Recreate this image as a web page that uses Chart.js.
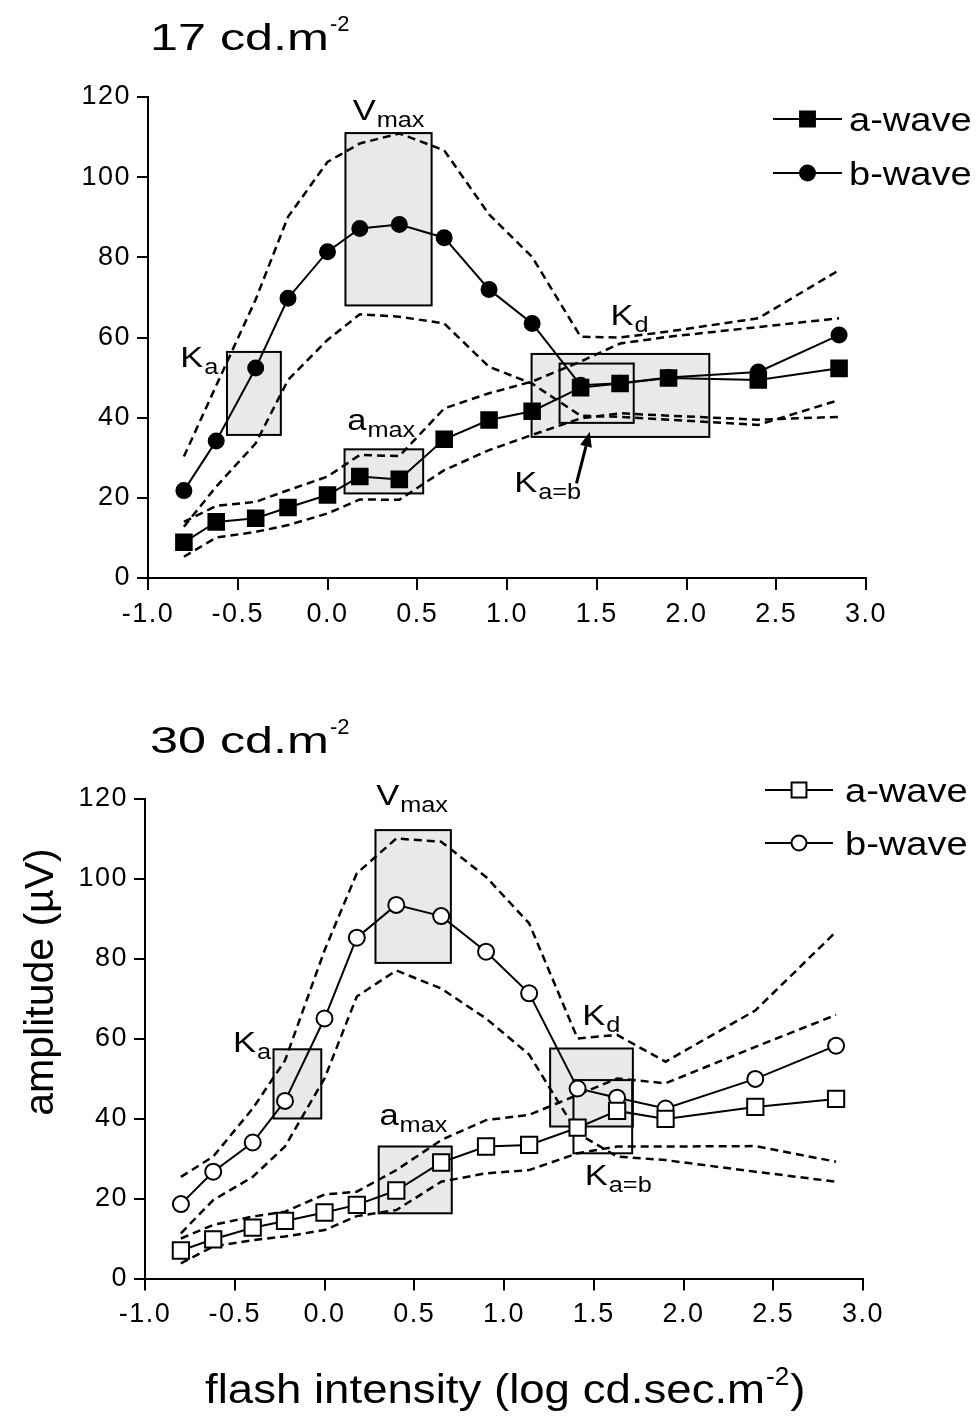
<!DOCTYPE html>
<html>
<head>
<meta charset="utf-8">
<script src="https://cdn.jsdelivr.net/npm/chart.js@4.4.1/dist/chart.umd.min.js"></script>
<style>
  body { margin: 0; background: #fff; }
  #wrap { position: relative; width: 979px; height: 1419px; }
  canvas { position: absolute; left: 0; }
</style>
</head>
<body>
<div id="wrap">
  <canvas id="c17" width="979" height="700" style="top:0"></canvas>
  <canvas id="c30" width="979" height="719" style="top:700px"></canvas>
</div>
<script>
// flash intensities (log cd.sec.m-2), shared by both panels
const intensity = [-0.8, -0.62, -0.4, -0.22, 0.0, 0.18, 0.4, 0.65, 0.9, 1.14, 1.41, 1.63, 1.9, 2.4, 2.85];
const xTickValues = [-1.0, -0.5, 0.0, 0.5, 1.0, 1.5, 2.0, 2.5, 3.0];
const yTickValues = [0, 20, 40, 60, 80, 100, 120];

// 17 cd.m-2 panel (amplitude, uV)
const aWave17  = [8.9, 14.0, 14.9, 17.6, 20.7, 25.3, 24.6, 34.6, 39.4, 41.6, 47.5, 48.5, 49.9, 49.4, 52.3];
const bWave17  = [21.8, 34.2, 52.4, 69.8, 81.4, 87.2, 88.2, 84.9, 72.0, 63.5, 48.1, 48.6, 50.0, 51.4, 60.6];
const bUpper17 = [30.3, 48.0, 69.5, 90.1, 103.8, 108.4, 110.9, 106.7, 90.7, 80.1, 60.2, 60.0, 61.5, 64.8, 76.8];
const bLower17 = [12.8, 22.8, 33.6, 49.4, 59.4, 65.8, 65.2, 63.5, 52.7, 48.5, 40.5, 40.2, 39.5, 38.2, 44.4];
const aUpper17 = [14.0, 18.0, 19.0, 21.9, 25.3, 30.7, 30.4, 42.3, 46.1, 49.0, 54.0, 58.5, 60.2, 62.6, 64.8];
const aLower17 = [5.3, 10.1, 11.5, 13.2, 16.1, 19.6, 19.5, 26.9, 31.9, 35.7, 39.8, 41.1, 40.5, 39.5, 40.2];

// 30 cd.m-2 panel
const aWave30  = [7.0, 9.8, 12.7, 14.4, 16.5, 18.4, 22.0, 29.0, 33.0, 33.4, 37.7, 41.9, 39.9, 42.9, 44.9];
const bWave30  = [18.6, 26.7, 34.0, 44.4, 65.0, 85.2, 93.4, 90.6, 81.7, 71.3, 47.5, 45.2, 42.5, 49.9, 58.2];
const bUpper30 = [25.4, 30.5, 42.5, 54.5, 82.0, 101.3, 110.0, 109.2, 100.4, 88.8, 60.0, 60.9, 54.2, 67.0, 86.7];
const bLower30 = [11.3, 19.6, 25.4, 33.0, 50.0, 70.5, 77.0, 72.5, 65.0, 56.0, 36.3, 30.5, 29.6, 26.7, 24.2];
const aUpper30 = [10.0, 13.4, 15.5, 16.7, 21.0, 21.7, 27.1, 34.6, 39.6, 40.9, 45.9, 50.0, 48.8, 57.9, 65.9];
const aLower30 = [3.8, 8.0, 9.6, 10.5, 12.1, 15.6, 17.1, 24.2, 26.3, 27.1, 31.3, 33.0, 33.0, 33.1, 29.2];

// shaded parameter boxes, in data units
const boxes17 = [
  { x0: 0.10, x1: 0.58, y0: 68.0, y1: 111.0, fill: true },
  { x0: -0.56, x1: -0.26, y0: 35.7, y1: 56.4, fill: true },
  { x0: 0.095, x1: 0.533, y0: 21.1, y1: 32.1, fill: true },
  { x0: 1.137, x1: 2.127, y0: 35.2, y1: 55.9, fill: true },
  { x0: 1.293, x1: 1.706, y0: 38.7, y1: 53.5, fill: false }
];
const boxes30 = [
  { x0: 0.284, x1: 0.704, y0: 78.9, y1: 112.1, fill: true },
  { x0: -0.284, x1: -0.018, y0: 40.0, y1: 57.3, fill: true },
  { x0: 0.302, x1: 0.709, y0: 16.3, y1: 33.0, fill: true },
  { x0: 1.257, x1: 1.718, y0: 38.0, y1: 57.5, fill: true },
  { x0: 1.387, x1: 1.714, y0: 31.3, y1: 49.6, fill: false }
];
const labels17 = [
  { main: 'V', sub: 'max', x: 0.14, y: 114.2 },
  { main: 'K', sub: 'a', x: -0.82, y: 52.6 },
  { main: 'a', sub: 'max', x: 0.11, y: 36.9 },
  { main: 'K', sub: 'd', x: 1.577, y: 63.1 },
  { main: 'K', sub: 'a=b', x: 1.04, y: 21.5 }
];
const labels30 = [
  { main: 'V', sub: 'max', x: 0.288, y: 118.4 },
  { main: 'K', sub: 'a', x: -0.51, y: 56.7 },
  { main: 'a', sub: 'max', x: 0.306, y: 38.4 },
  { main: 'K', sub: 'd', x: 1.436, y: 63.4 },
  { main: 'K', sub: 'a=b', x: 1.45, y: 23.4 }
];
const arrow17 = { x0: 1.387, y0: 23.6, x1: 1.461, y1: 36.5 };

const FONT = '"Liberation Sans", Arial, Helvetica, sans-serif';

function txt(ctx, s, x, y, size, sx, align) {
  ctx.save();
  ctx.letterSpacing = '0px';
  ctx.font = size + 'px ' + FONT;
  ctx.fillStyle = '#000';
  ctx.textBaseline = 'alphabetic';
  ctx.textAlign = 'left';
  const w = ctx.measureText(s).width * sx;
  const left = align === 'center' ? x - w / 2 : x;
  ctx.translate(left, y);
  ctx.scale(sx, 1);
  ctx.fillText(s, 0, 0);
  ctx.restore();
  return w;
}

function marker(ctx, style, filled, x, y, r) {
  ctx.beginPath();
  if (style === 'rect') {
    const s = r * Math.SQRT1_2;
    ctx.rect(x - s, y - s, 2 * s, 2 * s);
  } else {
    ctx.arc(x, y, r, 0, Math.PI * 2);
  }
  ctx.fillStyle = filled ? '#000' : '#fff';
  ctx.fill();
  ctx.lineWidth = 2;
  ctx.strokeStyle = '#000';
  ctx.stroke();
}

const extras = {
  c17: {
    boxes: boxes17, labels: labels17, arrow: arrow17,
    title: { text: '17 cd.m', x: 150, y: 50 },
    legend: { x0: 773, x1: 842, tx: 849, ys: [119, 173] },
    axisLabels: false
  },
  c30: {
    boxes: boxes30, labels: labels30, arrow: null,
    title: { text: '30 cd.m', x: 150, y: 53 },
    legend: { x0: 765, x1: 833, tx: 845, ys: [90, 143] },
    axisLabels: true
  }
};

const annotPlugin = {
  id: 'annot',
  beforeDraw(chart) {
    chart.ctx.letterSpacing = '1.5px';
  },
  beforeDatasetsDraw(chart) {
    const ex = extras[chart.canvas.id];
    const { ctx } = chart;
    const xs = chart.scales.x, ys = chart.scales.y;
    ctx.save();
    ex.boxes.forEach(b => {
      if (!b.fill) return;
      const l = xs.getPixelForValue(b.x0), r = xs.getPixelForValue(b.x1);
      const t = ys.getPixelForValue(b.y1), bt = ys.getPixelForValue(b.y0);
      ctx.fillStyle = '#e9e9e9';
      ctx.fillRect(l, t, r - l, bt - t);
    });
    ex.boxes.forEach(b => {
      const l = xs.getPixelForValue(b.x0), r = xs.getPixelForValue(b.x1);
      const t = ys.getPixelForValue(b.y1), bt = ys.getPixelForValue(b.y0);
      ctx.lineWidth = 2;
      ctx.strokeStyle = '#000';
      ctx.strokeRect(l, t, r - l, bt - t);
    });
    ctx.restore();
  },
  afterDraw(chart) {
    const ex = extras[chart.canvas.id];
    const { ctx } = chart;
    const xs = chart.scales.x, ys = chart.scales.y;

    // parameter labels with subscripts
    ex.labels.forEach(lab => {
      const px = xs.getPixelForValue(lab.x), py = ys.getPixelForValue(lab.y);
      const w = txt(ctx, lab.main, px, py, 30, 1.15);
      txt(ctx, lab.sub, px + w + 1, py + 7, 22, 1.15);
    });

    // arrow to K a=b
    if (ex.arrow) {
      const a = ex.arrow;
      const x0 = xs.getPixelForValue(a.x0), y0 = ys.getPixelForValue(a.y0);
      const x1 = xs.getPixelForValue(a.x1), y1 = ys.getPixelForValue(a.y1);
      const ang = Math.atan2(y1 - y0, x1 - x0);
      const hl = 15, hw = 6;
      const bx = x1 - hl * Math.cos(ang), by = y1 - hl * Math.sin(ang);
      ctx.save();
      ctx.strokeStyle = '#000';
      ctx.lineWidth = 3;
      ctx.beginPath();
      ctx.moveTo(x0, y0);
      ctx.lineTo(bx, by);
      ctx.stroke();
      ctx.beginPath();
      ctx.moveTo(x1, y1);
      ctx.lineTo(bx + hw * Math.sin(ang), by - hw * Math.cos(ang));
      ctx.lineTo(bx - hw * Math.sin(ang), by + hw * Math.cos(ang));
      ctx.closePath();
      ctx.fillStyle = '#000';
      ctx.fill();
      ctx.restore();
    }

    // legend: line + marker + text
    const lg = ex.legend;
    [0, 1].forEach(i => {
      const ds = chart.data.datasets[i];
      const y = lg.ys[i];
      ctx.save();
      ctx.strokeStyle = '#000';
      ctx.lineWidth = 2;
      ctx.beginPath();
      ctx.moveTo(lg.x0, y);
      ctx.lineTo(lg.x1, y);
      ctx.stroke();
      marker(ctx, ds.pointStyle, ds.pointBackgroundColor === '#000', (lg.x0 + lg.x1) / 2, y,
        ds.pointStyle === 'rect' ? 10.5 : 7.5);
      ctx.restore();
      txt(ctx, ds.label, lg.tx, y + 12, 34, 1.12);
    });

    // panel title
    const tw = txt(ctx, ex.title.text, ex.title.x, ex.title.y, 37, 1.36);
    txt(ctx, '-2', ex.title.x + tw + 1, ex.title.y - 19, 22, 1.0);

    if (ex.axisLabels) {
      // x axis title
      let x = 205, base = 703;
      x += txt(ctx, 'flash intensity (log cd.sec.m', x, base, 40, 1.14);
      x += txt(ctx, '-2', x + 1, base - 18, 26, 1.0) + 2;
      txt(ctx, ')', x, base, 40, 1.14);
      // y axis title
      ctx.save();
      ctx.translate(53, 282);
      ctx.rotate(-Math.PI / 2);
      txt(ctx, 'amplitude (\u00b5V)', 0, 0, 41, 1.0, 'center');
      ctx.restore();
    }
  }
};

function pts(arr) {
  return intensity.map((x, i) => ({ x: x, y: arr[i] }));
}

function seriesDs(label, arr, style, filled, r) {
  return {
    label: label,
    data: pts(arr),
    showLine: true,
    borderColor: '#000',
    borderWidth: 2,
    pointStyle: style,
    pointRadius: r,
    pointBorderWidth: 2,
    pointBorderColor: '#000',
    pointBackgroundColor: filled ? '#000' : '#fff'
  };
}

function boundDs(label, arr) {
  return {
    label: label,
    data: pts(arr),
    showLine: true,
    borderColor: '#000',
    borderWidth: 2.5,
    borderDash: [8, 5],
    pointRadius: 0
  };
}

function makeChart(id, a, b, bu, bl, au, al, filled, pad, yWidth) {
  return new Chart(document.getElementById(id), {
    type: 'scatter',
    data: {
      datasets: [
        seriesDs('a-wave', a, 'rect', filled, filled ? 11 : 11.5),
        seriesDs('b-wave', b, 'circle', filled, filled ? 7.5 : 8),
        boundDs('b-wave upper', bu),
        boundDs('b-wave lower', bl),
        boundDs('a-wave upper', au),
        boundDs('a-wave lower', al)
      ]
    },
    options: {
      responsive: false,
      animation: false,
      events: [],
      layout: { padding: pad },
      plugins: { legend: { display: false }, tooltip: { enabled: false } },
      scales: {
        x: {
          type: 'linear',
          min: -1.0,
          max: 3.0,
          afterBuildTicks: s => { s.ticks = xTickValues.map(v => ({ value: v })); },
          afterFit: s => { s.height = 60; },
          ticks: {
            color: '#000',
            padding: 8,
            maxRotation: 0,
            font: { family: FONT, size: 27 },
            callback: v => Number(v).toFixed(1)
          },
          grid: { drawOnChartArea: false, drawTicks: true, tickLength: 12, color: '#000', lineWidth: 2 },
          border: { display: true, color: '#000', width: 2 }
        },
        y: {
          type: 'linear',
          min: 0,
          max: 120,
          afterBuildTicks: s => { s.ticks = yTickValues.map(v => ({ value: v })); },
          afterFit: s => { s.width = yWidth; },
          ticks: {
            color: '#000',
            padding: 6,
            font: { family: FONT, size: 27 },
            callback: v => String(v)
          },
          grid: { drawOnChartArea: false, drawTicks: true, tickLength: 11, color: '#000', lineWidth: 2 },
          border: { display: true, color: '#000', width: 2 }
        }
      }
    },
    plugins: [annotPlugin]
  });
}

makeChart('c17', aWave17, bWave17, bUpper17, bLower17, aUpper17, aLower17, true,
  { top: 97, left: 0, right: 113, bottom: 62 }, 148);
makeChart('c30', aWave30, bWave30, bUpper30, bLower30, aUpper30, aLower30, false,
  { top: 98.5, left: 0, right: 116, bottom: 80.5 }, 145);
</script>
</body>
</html>
